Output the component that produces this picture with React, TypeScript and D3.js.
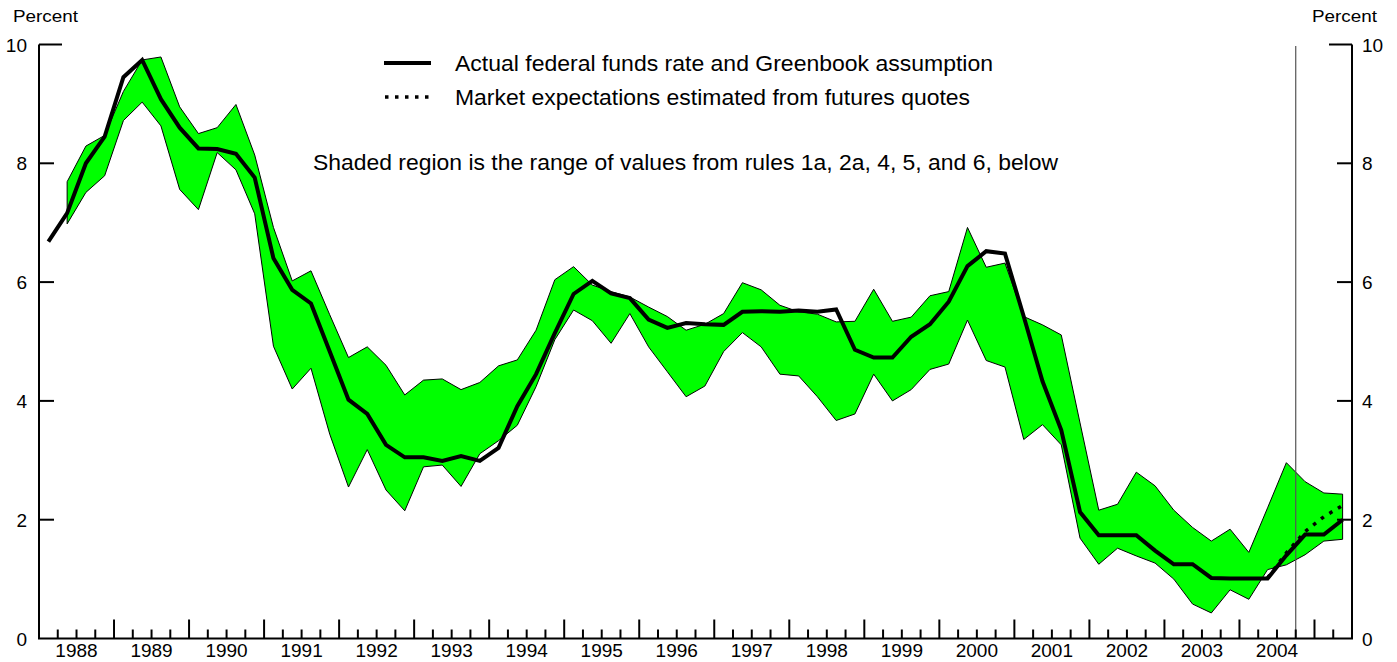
import React from 'react';
import * as d3 from 'd3';

const startYear = 1988;
const nQuarters = 70;
const yearLabels = ['1988','1989','1990','1991','1992','1993','1994','1995','1996','1997','1998','1999','2000','2001','2002','2003','2004'];
const yTicks = [0, 2, 4, 6, 8, 10];

// Quarterly values, 1988Q1 .. 2005Q2
const actual = [
  6.68, 7.16, 8.00, 8.45, 9.45, 9.74, 9.08, 8.60, 8.25, 8.24,
  8.16, 7.76, 6.40, 5.87, 5.64, 4.83, 4.02, 3.78, 3.26, 3.05,
  3.05, 2.99, 3.07, 2.99, 3.21, 3.91, 4.45, 5.14, 5.80, 6.02,
  5.81, 5.73, 5.37, 5.23, 5.31, 5.29, 5.28, 5.50, 5.51, 5.50,
  5.52, 5.50, 5.54, 4.86, 4.73, 4.73, 5.08, 5.29, 5.67, 6.27,
  6.52, 6.48, 5.42, 4.33, 3.51, 2.13, 1.74, 1.74, 1.74, 1.48,
  1.25, 1.25, 1.02, 1.01, 1.01, 1.01, 1.40, 1.75, 1.75, 2.00,
];

const upper = [
  null, 7.69, 8.29, 8.47, 9.21, 9.74, 9.79, 8.95, 8.50, 8.60,
  8.99, 8.14, 6.92, 6.02, 6.19, 5.45, 4.73, 4.91, 4.60, 4.10,
  4.35, 4.37, 4.19, 4.31, 4.59, 4.69, 5.19, 6.04, 6.26, 5.95,
  5.84, 5.75, 5.58, 5.42, 5.19, 5.29, 5.47, 5.99, 5.87, 5.61,
  5.50, 5.46, 5.33, 5.34, 5.88, 5.34, 5.41, 5.77, 5.84, 6.92,
  6.25, 6.32, 5.42, 5.28, 5.11, 3.63, 2.16, 2.26, 2.80, 2.57,
  2.16, 1.87, 1.64, 1.84, 1.45, 2.20, 2.96, 2.64, 2.45, 2.43,
];

const lower = [
  null, 6.98, 7.51, 7.79, 8.72, 9.03, 8.63, 7.56, 7.22, 8.18,
  7.89, 7.15, 4.92, 4.20, 4.55, 3.44, 2.55, 3.18, 2.50, 2.15,
  2.89, 2.92, 2.56, 3.11, 3.33, 3.59, 4.24, 5.03, 5.53, 5.35,
  4.97, 5.47, 4.91, 4.49, 4.07, 4.25, 4.83, 5.15, 4.91, 4.45,
  4.42, 4.07, 3.67, 3.78, 4.45, 4.00, 4.19, 4.53, 4.62, 5.36,
  4.68, 4.57, 3.35, 3.60, 3.26, 1.69, 1.25, 1.52, 1.39, 1.27,
  1.00, 0.58, 0.43, 0.82, 0.66, 1.16, 1.24, 1.41, 1.64, 1.67,
];

// Market expectations from futures quotes (2004Q2 .. 2005Q2)
const marketStart = 65;
const market = [1.02, 1.44, 1.80, 2.05, 2.24];

const legendItems = [
  { label: 'Actual federal funds rate and Greenbook assumption', dashed: false },
  { label: 'Market expectations estimated from futures quotes', dashed: true },
];
const noteText = 'Shaded region is the range of values from rules 1a, 2a, 4, 5, and 6, below';
const forecastBoundary = 67; // quarter index where vertical line is drawn

export default function App() {
  const W = 1397, H = 662;
  const left = 39, right = 1352, top = 44.5, bottom = 638.5;
  const x = d3.scaleLinear().domain([0, nQuarters]).range([left, right]);
  const y = d3.scaleLinear().domain([0, 10]).range([bottom, top]);

  const font = '"Liberation Sans", Arial, Helvetica, sans-serif';

  const line = d3.line<{ i: number; v: number }>()
    .x(d => x(d.i + 0.5))
    .y(d => y(d.v));
  const actualPath = line(actual.map((v, i) => ({ i, v }))) || '';
  const marketPath = line(market.map((v, k) => ({ i: marketStart + k, v }))) || '';

  const band = upper
    .map((u, i) => ({ i, u, l: lower[i] }))
    .filter(d => d.u != null && d.l != null) as { i: number; u: number; l: number }[];
  const area = d3.area<{ i: number; u: number; l: number }>()
    .x(d => x(d.i + 0.5))
    .y0(d => y(d.l))
    .y1(d => y(d.u));
  const bandPath = area(band) || '';

  const qTicks = d3.range(1, nQuarters);

  return (
    <>
      <style>{`body{margin:0;background:#fff}`}</style>
      <svg width={W} height={H} style={{ display: 'block', fontFamily: font }}>
        <rect width={W} height={H} fill="#fff" />
        {/* band */}
        <path d={bandPath} fill="#00ff00" stroke="#000" strokeWidth={1} strokeLinejoin="miter" />

        {/* forecast boundary */}
        <line x1={x(forecastBoundary)} x2={x(forecastBoundary)} y1={46} y2={bottom} stroke="#555" strokeWidth={1.2} />

        {/* market expectations dotted */}
        <path d={marketPath} fill="none" stroke="#000" strokeWidth={3.5} strokeDasharray="3.5 6.5" />
        {/* actual */}
        <path d={actualPath} fill="none" stroke="#000" strokeWidth={4} strokeLinejoin="miter" />

        {/* axes */}
        <line x1={left} x2={left} y1={top} y2={bottom} stroke="#000" strokeWidth={2} />
        <line x1={right} x2={right} y1={top} y2={bottom} stroke="#000" strokeWidth={2} />
        <line x1={left - 1} x2={right + 1} y1={bottom} y2={bottom} stroke="#000" strokeWidth={2} />

        {yTicks.filter(t => t > 0).map(t => {
          const len = t === 10 ? 23 : 15;
          return (
            <g key={t}>
              <line x1={left} x2={left + len} y1={y(t)} y2={y(t)} stroke="#000" strokeWidth={2} />
              <line x1={right - len} x2={right} y1={y(t)} y2={y(t)} stroke="#000" strokeWidth={2} />
            </g>
          );
        })}
        {yTicks.map(t => (
          <g key={'l' + t} fontSize={19} fill="#000">
            <text x={27} y={y(t) + 7} textAnchor="end">{t}</text>
            <text x={1362} y={y(t) + 7} textAnchor="start">{t}</text>
          </g>
        ))}
        <text x={13} y={22} fontSize={17} fill="#000" textLength={65} lengthAdjust="spacingAndGlyphs">Percent</text>
        <text x={1312} y={22} fontSize={17} fill="#000" textLength={65} lengthAdjust="spacingAndGlyphs">Percent</text>

        {qTicks.map(q => {
          const major = q % 4 === 0;
          return (
            <line key={q} x1={x(q)} x2={x(q)} y1={bottom} y2={bottom - (major ? 19 : 9)} stroke="#000" strokeWidth={2} />
          );
        })}
        {yearLabels.map((lab, k) => (
          <text key={lab} x={x(k * 4 + 2)} y={657} textAnchor="middle" fontSize={19} fill="#000">{lab}</text>
        ))}

        {/* legend */}
        {legendItems.map((it, k) => {
          const ly = 63 + k * 34;
          return (
            <g key={it.label}>
              {it.dashed ? (
                <line x1={385} x2={431} y1={ly} y2={ly} stroke="#000" strokeWidth={3.5} strokeDasharray="3.5 6.5" />
              ) : (
                <line x1={384} x2={431} y1={ly} y2={ly} stroke="#000" strokeWidth={4} />
              )}
              <text x={455} y={ly + 8} fontSize={22} fill="#000"
                textLength={k === 0 ? 538 : 515} lengthAdjust="spacingAndGlyphs">{it.label}</text>
            </g>
          );
        })}
        <text x={313} y={170} fontSize={22} fill="#000" textLength={745} lengthAdjust="spacingAndGlyphs">{noteText}</text>
      </svg>
    </>
  );
}
